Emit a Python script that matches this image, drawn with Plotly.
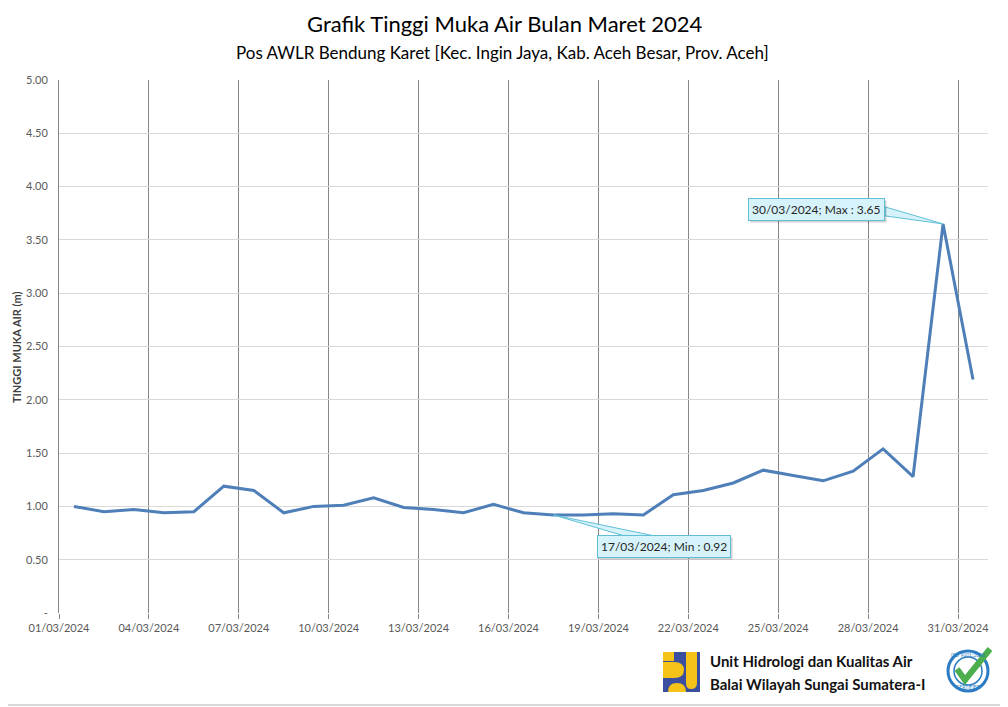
import plotly.graph_objects as go

# ---- data ----
tanggal = [f"2024-03-{d:02d} 12:00" for d in range(1, 32)]
tma = [1.00, 0.95, 0.97, 0.94, 0.95, 1.19, 1.15, 0.94, 1.00, 1.01,
       1.08, 0.99, 0.97, 0.94, 1.02, 0.94, 0.92, 0.92, 0.93, 0.92,
       1.11, 1.15, 1.22, 1.34, 1.29, 1.24, 1.33, 1.54, 1.28, 3.65,
       2.19]
xtick_vals = ["2024-03-01", "2024-03-04", "2024-03-07", "2024-03-10", "2024-03-13",
              "2024-03-16", "2024-03-19", "2024-03-22", "2024-03-25", "2024-03-28",
              "2024-03-31"]
ytick_vals = [0, 0.5, 1.0, 1.5, 2.0, 2.5, 3.0, 3.5, 4.0, 4.5, 5.0]
ytick_text = ["-", "0.50", "1.00", "1.50", "2.00", "2.50", "3.00", "3.50", "4.00", "4.50", "5.00"]

FONT = "Lato, Open Sans, Arial"

# the page puts the plot 8px in from the corner, so the figure is 8px smaller
OFF = 8
PX0, PX1, PY0, PY1 = 59, 988, 80, 613   # plot area in screen pixels
W = PX1 - PX0
H = PY1 - PY0


def fx(p):
    return (p - PX0) / W


def fy(p):
    return (PY1 - p) / H


def path(pts):
    # pts: list of (cmd, [x, y, ...]) in screen pixels -> paper path
    s = ""
    for cmd, xy in pts:
        s += cmd
        if xy:
            s += " ".join(f"{fx(xy[i]):.5f},{fy(xy[i+1]):.5f}" for i in range(0, len(xy), 2))
        s += " "
    return s


def label(text, x, y, size, color="#000000", xanchor="center", angle=0):
    return dict(text=text, xref="paper", yref="paper", x=fx(x), y=fy(y),
                xanchor=xanchor, yanchor="middle", showarrow=False, textangle=angle,
                font=dict(family=FONT, size=size, color=color))


fig = go.Figure()

fig.add_trace(go.Scatter(
    x=tanggal, y=tma, mode="lines",
    line=dict(color="#4f7fb8", width=3),
    hoverinfo="x+y", showlegend=False
))

i_min = tma.index(min(tma))
i_max = tma.index(max(tma))

shapes = []
annotations = []

# callouts
callout_fill = "#d6f3fb"
callout_line = "#5fbfd6"
for i, txt, ax, ay, wedge in [
    (i_min, "17/03/2024; Min : 0.92", 111, 32, [(71, -21), (101, -21)]),
    (i_max, "30/03/2024; Max : 3.65", -127, -14, [(-58, 17), (-58, 8)]),
]:
    shapes.append(dict(
        type="path", xref="x", yref="y", xsizemode="pixel", ysizemode="pixel",
        xanchor=tanggal[i], yanchor=tma[i],
        path=f"M0,0 L{wedge[0][0]},{wedge[0][1]} L{wedge[1][0]},{wedge[1][1]} Z",
        fillcolor=callout_fill, line=dict(color=callout_line, width=1), layer="above"
    ))
    # shadow
    annotations.append(dict(
        x=tanggal[i], y=tma[i], xref="x", yref="y", text=txt,
        showarrow=True, arrowcolor="rgba(0,0,0,0)", ax=ax + 2, ay=ay + 2,
        font=dict(family=FONT, size=12, color="rgba(0,0,0,0)"),
        bgcolor="rgba(0,0,0,0.18)", borderpad=3, borderwidth=1,
        bordercolor="rgba(0,0,0,0)"
    ))
    annotations.append(dict(
        x=tanggal[i], y=tma[i], xref="x", yref="y", text=txt,
        showarrow=True, arrowcolor="rgba(0,0,0,0)", ax=ax, ay=ay,
        font=dict(family=FONT, size=12, color="#262626"),
        bgcolor=callout_fill, bordercolor=callout_line, borderwidth=1, borderpad=3
    ))

# titles and footer text
annotations += [
    label("Grafik Tinggi Muka Air Bulan Maret 2024", 504, 24, 22),
    label("Pos AWLR Bendung Karet [Kec. Ingin Jaya, Kab. Aceh Besar, Prov. Aceh]", 502, 52, 17),
    label("<b>TINGGI MUKA AIR (m)</b>", 16, 347, 11, color="#404040", angle=-90),
    label("<b>Unit Hidrologi dan Kualitas Air</b>", 708, 661, 15, color="#111111", xanchor="left"),
    label("<b>Balai Wilayah Sungai Sumatera-I</b>", 708, 684, 15, color="#111111", xanchor="left"),
    label("ISO 9001:2008", 968, 655, 5, color="#2b7cc2"),
    label("CERTIFIED", 968, 687, 5, color="#2b7cc2"),
]

# outer frame (right and bottom edges only land inside the figure)
shapes += [
    dict(type="line", xref="paper", yref="paper", x0=fx(1006), x1=fx(1006), y0=fy(706), y1=fy(8),
         line=dict(color="#d9d9d9", width=2)),
    dict(type="line", xref="paper", yref="paper", x0=fx(8), x1=fx(1006), y0=fy(705), y1=fy(705),
         line=dict(color="#d9d9d9", width=2)),
]

# PU logo
yel = "#f5c218"
blu = "#3a4fa0"
shapes += [
    dict(type="rect", xref="paper", yref="paper", x0=fx(663), x1=fx(700), y0=fy(692), y1=fy(652),
         fillcolor=blu, line_width=0),
    dict(type="rect", xref="paper", yref="paper", x0=fx(663), x1=fx(674), y0=fy(661), y1=fy(652),
         fillcolor=yel, line_width=0),
    dict(type="path", xref="paper", yref="paper",
         path=path([("M", [663, 662]), ("L", [674, 662]), ("Q", [684, 662, 684, 670]),
                    ("Q", [684, 678, 674, 678]), ("L", [663, 678]), ("Z", [])]),
         fillcolor=yel, line_width=0),
    dict(type="path", xref="paper", yref="paper",
         path=path([("M", [686, 652]), ("L", [697, 652]), ("L", [697, 683]),
                    ("Q", [697, 689, 691, 689]), ("Q", [686, 689, 686, 683]), ("Z", [])]),
         fillcolor=yel, line_width=0),
    dict(type="path", xref="paper", yref="paper",
         path=path([("M", [668, 692]), ("Q", [668, 683, 677, 683]), ("Q", [686, 683, 686, 692]),
                    ("Z", [])]),
         fillcolor=yel, line_width=0),
]

# ISO badge
shapes += [
    dict(type="circle", xref="paper", yref="paper", x0=fx(948), x1=fx(988), y0=fy(691), y1=fy(651),
         fillcolor="white", line=dict(color="#2b7cc2", width=3)),
    dict(type="circle", xref="paper", yref="paper", x0=fx(954), x1=fx(982), y0=fy(685), y1=fy(657),
         fillcolor="white", line=dict(color="#2b7cc2", width=1.5)),
    dict(type="path", xref="paper", yref="paper",
         path=path([("M", [957, 669]), ("L", [965, 680]), ("L", [990, 649])]),
         line=dict(color="#4cae4c", width=6)),
]

fig.update_layout(
    width=1008 - OFF, height=707 - OFF,
    margin=dict(l=PX0 - OFF, r=1008 - PX1, t=PY0 - OFF, b=707 - PY1),
    paper_bgcolor="white", plot_bgcolor="white",
    font=dict(family=FONT, size=11, color="#595959"),
    shapes=shapes, annotations=annotations,
    xaxis=dict(
        type="date", range=["2024-03-01", "2024-04-01"],
        tickvals=xtick_vals, tickformat="%d/%m/%Y",
        showgrid=True, gridcolor="#868686", gridwidth=1,
        ticks="outside", ticklen=5, tickcolor="#868686",
        showline=False, zeroline=False,
        tickfont=dict(family=FONT, size=11, color="#595959"),
    ),
    yaxis=dict(
        range=[0, 5], tickvals=ytick_vals, ticktext=ytick_text,
        showgrid=True, gridcolor="#d9d9d9", gridwidth=1,
        showline=True, linecolor="#868686", linewidth=1,
        zeroline=False, ticks="", ticklabelstandoff=8,
        tickfont=dict(family=FONT, size=11, color="#595959"),
    ),
)

fig.write_html("out.html")
